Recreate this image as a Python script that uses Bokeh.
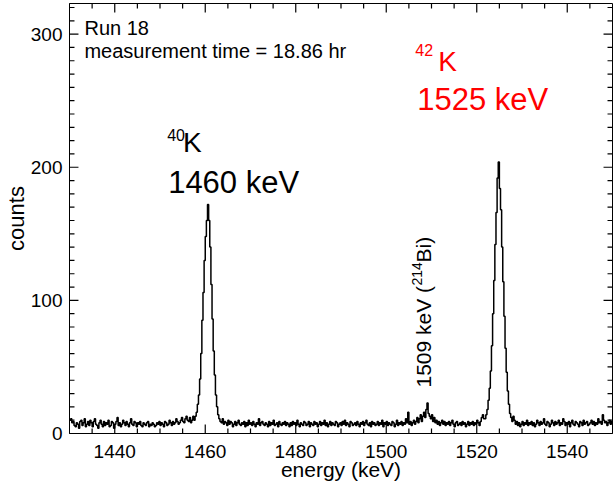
import numpy as np
from bokeh.plotting import figure
from bokeh.models import Label, SingleIntervalTicker, Range1d, Arrow, ColumnDataSource
from bokeh.embed import file_html
from bokeh.resources import INLINE

# ---------------- data ----------------
bin_start = 1430.0     # keV, low edge of first bin
bin_width = 0.25       # keV
counts = [
    10, 11, 8, 9, 6, 5, 8, 7, 4, 9, 10, 6, 8, 11, 5, 7, 9, 6, 10, 8,
    5, 9, 11, 7, 6, 4, 8, 10, 7, 5, 9, 6, 8, 7, 10, 5, 6, 9, 8, 4,
    7, 9, 12, 6, 8, 5, 7, 10, 8, 6, 9, 7, 5, 8, 11, 7, 6, 9, 8, 5,
    8, 7, 9, 6, 5, 8, 7, 6, 8, 9, 5, 7, 6, 8, 7, 5, 6, 8, 7, 9,
    6, 8, 7, 5, 9, 8, 6, 7, 10, 8, 6, 9, 7, 8, 11, 9, 7, 8, 10, 12,
    9, 8, 11, 13, 10, 9, 12, 8, 10, 13,
    10, 13, 16, 22, 29, 41, 60, 85, 106, 130, 148, 160, 172, 160, 140, 112, 86, 62, 44, 29, 20, 14, 11, 9,
    8, 11, 7, 9, 8, 6, 10, 7, 9, 8, 5, 7, 9, 6, 8, 10, 7, 6, 8,
    7, 9, 5, 8, 6, 10, 7, 8, 6, 9, 7, 5, 8, 7, 11, 6, 8, 9, 7, 6,
    8, 7, 5, 9, 6, 8, 7, 10, 6, 7, 8, 5, 9, 7, 6, 8, 7, 9, 6, 8,
    7, 5, 8, 6, 9, 7, 8, 6, 10, 7, 5, 8, 7, 6, 9, 8, 6, 7, 9, 5,
    8, 7, 6, 9, 7, 8, 5, 7, 9, 6, 8, 7, 10, 6, 8, 5, 7, 9, 6, 8,
    7, 6, 9, 8, 5, 7, 8, 6, 9, 7, 10, 6, 8, 7, 5, 9, 8, 6, 7, 8,
    6, 9, 7, 5, 8, 7, 9, 6, 8, 10, 7, 6, 8, 5, 9, 7, 8, 6, 7, 9,
    6, 8, 7, 10, 5, 8, 7, 9, 6, 8, 7, 6, 9, 8, 5, 7, 10, 6, 8, 7,
    9, 6, 8, 7, 11, 8, 16, 7, 9, 6, 8, 10, 7, 9, 12, 8, 11, 14, 9, 13,
    16, 12, 18, 23, 15, 13, 11, 14, 9, 12, 8, 10, 7, 9, 6, 8, 10, 7, 9, 6,
    8, 7, 9, 6, 8, 10, 7, 5, 8, 9, 6, 7, 8, 6, 9, 7, 8, 5, 7, 9,
    6, 8, 7, 9, 6, 8, 7, 10, 8, 6, 9, 12, 14, 11,
    11, 14, 18, 25, 34, 47, 66, 90, 115, 142, 166, 192, 204, 184, 168, 140, 114, 88, 64, 46, 32, 22, 15, 12, 9,
    13, 10, 7, 9, 6, 8, 5, 7, 9, 6, 8, 7, 10, 6, 8, 7,
    9, 6, 8, 5, 7, 10, 8, 6, 9, 7, 8, 11, 7, 6, 9, 8, 5, 7, 10, 8,
    6, 9, 7, 8, 10, 6, 8, 7, 11, 9, 6, 8, 7, 9, 5, 8, 10, 7, 6, 9,
    8, 7, 5, 9, 8, 6, 10, 7, 8, 9, 6, 7, 8, 10, 7, 9, 6, 8, 7, 11,
    8, 9, 7, 14, 10, 8, 9, 6, 8, 10, 7, 9,
]
x_min, x_max = 1430, 1550
y_min, y_max = 0, 323
x_major, x_minor = 20, 5
y_major, y_minor = 100, 10

edges = bin_start + bin_width * np.arange(len(counts) + 1)
xs = [float(v) for v in edges]
ys = [float(v) for v in counts] + [float(counts[-1])]

# ---------------- figure ----------------
FONT = "Liberation Sans"
L, R, T, B = 67, 612, 3, 433   # intended frame edges in pixels

p = figure(width=616, height=483, output_backend="svg", toolbar_location=None,
           x_range=Range1d(x_min, x_max), y_range=Range1d(y_min, y_max),
           min_border_left=L, min_border_right=616 - R,
           min_border_top=T, min_border_bottom=483 - B)
p.background_fill_color = "white"
p.border_fill_color = "white"
p.outline_line_color = "black"
p.outline_line_width = 1
p.xgrid.visible = False
p.ygrid.visible = False

XPX = (x_max - x_min) / (R - L)   # data units per pixel, x
YPX = (y_max - y_min) / (B - T)   # data units per pixel, y


def px2x(px):
    return x_min + (px - L) * XPX


def py2y(py):
    return y_min + (B - py) * YPX


for ax in (p.xaxis[0], p.yaxis[0]):
    ax.major_tick_in = 0
    ax.major_tick_out = 0
    ax.minor_tick_in = 0
    ax.minor_tick_out = 0
    ax.axis_line_color = "black"
    ax.major_label_text_font = FONT
    ax.major_label_text_font_size = "19px"
    ax.major_label_text_color = "black"
    ax.axis_label_text_font = FONT
    ax.axis_label_text_font_style = "normal"
    ax.axis_label_text_color = "black"

p.xaxis[0].ticker = SingleIntervalTicker(interval=x_major)
p.yaxis[0].ticker = SingleIntervalTicker(interval=y_major)
p.xaxis[0].major_label_standoff = 11
p.yaxis[0].major_label_standoff = 7
p.xaxis[0].axis_label = "energy (keV)"
p.xaxis[0].axis_label_text_font_size = "21px"
p.xaxis[0].axis_label_standoff = -3
p.yaxis[0].axis_label = "counts"
p.yaxis[0].axis_label_text_font_size = "22px"
p.yaxis[0].axis_label_standoff = -1

# ---- inward ticks on all four sides (ROOT style), as headless arrows ----
MAJ, MIN = 9.0, 5.0    # tick lengths in pixels
x0, y0, x1, y1 = [], [], [], []
xv = x_min + x_minor
while xv < x_max - 1e-9:
    ln = MAJ if xv % x_major == 0 else MIN
    x0 += [float(xv), float(xv)]
    x1 += [float(xv), float(xv)]
    y0 += [float(y_min), float(y_max)]
    y1 += [float(y_min + ln * YPX), float(y_max - ln * YPX)]
    xv += x_minor
yv = y_min + y_minor
while yv < y_max - 1e-9:
    ln = MAJ if yv % y_major == 0 else MIN
    x0 += [float(x_min), float(x_max)]
    x1 += [float(x_min + ln * XPX), float(x_max - ln * XPX)]
    y0 += [float(yv), float(yv)]
    y1 += [float(yv), float(yv)]
    yv += y_minor
tick_src = ColumnDataSource(data=dict(x0=x0, y0=y0, x1=x1, y1=y1))
p.add_layout(Arrow(source=tick_src, x_start="x0", y_start="y0",
                   x_end="x1", y_end="y1", start=None, end=None,
                   line_color="black", line_width=1.2))

# histogram outline
p.step(xs, ys, mode="after", line_color="black", line_width=1.5)


def add_label(text, px, py, size, color="black", angle=0.0, align="left"):
    p.add_layout(Label(x=px2x(px), y=py2y(py), text=text,
                       text_font=FONT, text_font_size=f"{size}px",
                       text_color=color, text_align=align,
                       text_baseline="alphabetic", angle=angle))


# run info
add_label("Run 18", 82, 27, 20)
add_label("measurement time = 18.86 hr", 82, 50, 20)

# 40K
add_label("40", 165, 134, 16)
add_label("K", 181, 142, 28)
add_label("1460 keV", 166, 182, 31)

# 42K
add_label("42", 414, 49, 16, color="red")
add_label("K", 437, 61, 28, color="red")
add_label("1525 keV", 416, 99, 31, color="red")

# 1509 keV (214Bi), rotated
add_label("1509 keV (", 422, 387, 21, angle=np.pi / 2)
add_label("214", 416, 285, 14, angle=np.pi / 2)
add_label("Bi)", 422, 262, 21, angle=np.pi / 2)

open("out.html", "w").write(file_html(p, INLINE))
